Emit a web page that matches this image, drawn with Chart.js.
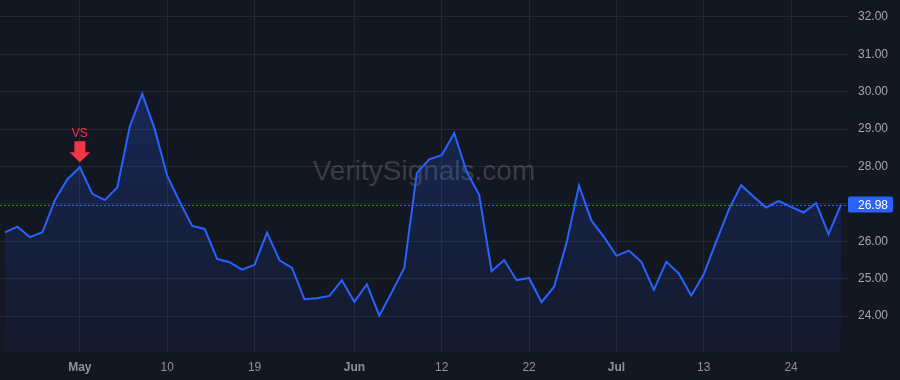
<!DOCTYPE html>
<html>
<head>
<meta charset="utf-8">
<script src="https://cdn.jsdelivr.net/npm/chart.js@4/dist/chart.umd.min.js"></script>
<style>
  html, body { margin: 0; padding: 0; background: #131722; }
  #wrap { width: 900px; height: 380px; }
</style>
</head>
<body>
<div id="wrap"><canvas id="price-chart" width="900" height="380"></canvas></div>
<script>
// trading days, Apr 21 - Jul 28 2023
const dates = [
  "2023-04-21","2023-04-24","2023-04-25","2023-04-26","2023-04-27","2023-04-28",
  "2023-05-01","2023-05-02","2023-05-03","2023-05-04","2023-05-05",
  "2023-05-08","2023-05-09","2023-05-10","2023-05-11","2023-05-12",
  "2023-05-15","2023-05-16","2023-05-17","2023-05-18","2023-05-19",
  "2023-05-22","2023-05-23","2023-05-24","2023-05-25","2023-05-26",
  "2023-05-30","2023-05-31","2023-06-01","2023-06-02",
  "2023-06-05","2023-06-06","2023-06-07","2023-06-08","2023-06-09",
  "2023-06-12","2023-06-13","2023-06-14","2023-06-15","2023-06-16",
  "2023-06-20","2023-06-21","2023-06-22","2023-06-23",
  "2023-06-26","2023-06-27","2023-06-28","2023-06-29","2023-06-30",
  "2023-07-03","2023-07-05","2023-07-06","2023-07-07",
  "2023-07-10","2023-07-11","2023-07-12","2023-07-13","2023-07-14",
  "2023-07-17","2023-07-18","2023-07-19","2023-07-20","2023-07-21",
  "2023-07-24","2023-07-25","2023-07-26","2023-07-27","2023-07-28"
];
const closes = [
  26.24, 26.39, 26.11, 26.24, 27.10, 27.66,
  27.98, 27.27, 27.10, 27.44, 29.07,
  29.94, 29.00, 27.75, 27.06, 26.41,
  26.33, 25.53, 25.44, 25.24, 25.37,
  26.23, 25.49, 25.29, 24.45, 24.48,
  24.54, 24.96, 24.38, 24.85,
  24.01, 24.64, 25.29, 27.82, 28.19,
  28.30, 28.89, 27.86, 27.24, 25.20,
  25.50, 24.96, 25.02, 24.37,
  24.78, 25.95, 27.49, 26.55, 26.12,
  25.61, 25.75, 25.45, 24.70,
  25.45, 25.14, 24.55, 25.12, 25.99,
  26.84, 27.50, 27.19, 26.90, 27.08,
  26.92, 26.77, 27.02, 26.19, 26.98
];
const tickDates = ["2023-05-01","2023-05-10","2023-05-19","2023-06-01","2023-06-12","2023-06-22","2023-07-03","2023-07-13","2023-07-24"];
const tickText  = ["May","10","19","Jun","12","22","Jul","13","24"];
const monthTicks = ["May","Jun","Jul"];
const priceTicks = [24, 25, 26, 27, 28, 29, 30, 31, 32];
const signalDate = "2023-05-01";
const signalText = "VS";
const watermark = "VeritySignals.com";

const tickIdx = tickDates.map(d => dates.indexOf(d));
const points = closes.map((v, i) => ({ x: i, y: v }));
const FONT = "'Liberation Sans', Arial, sans-serif";
const BLUE = "#2962ff";

// watermark + last price dotted line, under the series
const underlay = {
  id: "underlay",
  beforeDatasetsDraw(chart) {
    const { ctx, chartArea: a, scales: { y } } = chart;
    ctx.save();
    ctx.font = "28px " + FONT;
    ctx.fillStyle = "rgba(255,255,255,0.16)";
    ctx.textAlign = "center";
    ctx.textBaseline = "middle";
    ctx.fillText(watermark, (a.left + a.right) / 2, 172);

    const py = Math.round(y.getPixelForValue(closes[closes.length - 1])) + 0.5;
    ctx.strokeStyle = BLUE;
    ctx.lineWidth = 1;
    ctx.setLineDash([2, 2]);
    ctx.beginPath();
    ctx.moveTo(a.left, py);
    ctx.lineTo(a.right, py);
    ctx.stroke();
    ctx.restore();
  }
};

// signal marker and last price tag
const overlay = {
  id: "overlay",
  afterDraw(chart) {
    const { ctx, chartArea: a, scales: { x, y } } = chart;
    const si = dates.indexOf(signalDate);
    const sx = x.getPixelForValue(si);
    const sy = y.getPixelForValue(closes[si]);
    ctx.save();
    ctx.fillStyle = "#f23645";
    ctx.font = "12px " + FONT;
    ctx.textAlign = "center";
    ctx.textBaseline = "alphabetic";
    ctx.fillText(signalText, sx, sy - 30);
    ctx.fillRect(sx - 5.5, sy - 26, 11, 12);
    ctx.beginPath();
    ctx.moveTo(sx - 10.5, sy - 15);
    ctx.lineTo(sx + 10.5, sy - 15);
    ctx.lineTo(sx, sy - 5);
    ctx.closePath();
    ctx.fill();

    const last = closes[closes.length - 1];
    const py = y.getPixelForValue(last);
    ctx.fillStyle = BLUE;
    ctx.beginPath();
    ctx.roundRect(a.right, py - 8, 45, 16, 2);
    ctx.fill();
    ctx.fillStyle = "#ffffff";
    ctx.font = "12px " + FONT;
    ctx.textAlign = "left";
    ctx.textBaseline = "middle";
    ctx.fillText(last.toFixed(2), a.right + 10, py + 1);
    ctx.restore();
  }
};

new Chart(document.getElementById("price-chart").getContext("2d"), {
  type: "line",
  data: {
    datasets: [{
      data: points,
      borderColor: BLUE,
      borderWidth: 2,
      pointRadius: 0,
      tension: 0,
      fill: "start",
      backgroundColor(c) {
        const a = c.chart.chartArea;
        if (!a) return "rgba(41,98,255,0.1)";
        const g = c.chart.ctx.createLinearGradient(0, a.top, 0, a.bottom);
        g.addColorStop(0, "rgba(41,98,255,0.30)");
        g.addColorStop(1, "rgba(41,98,255,0.04)");
        return g;
      }
    }]
  },
  options: {
    responsive: false,
    animation: false,
    layout: { padding: 0 },
    plugins: { legend: { display: false }, tooltip: { enabled: false } },
    scales: {
      x: {
        type: "linear",
        min: -0.4,
        max: 67.56,
        afterBuildTicks(s) { s.ticks = tickIdx.map(v => ({ value: v })); },
        afterFit(s) {
          s.height = 28;
          s.paddingLeft = 0; s.paddingRight = 0;
        },
        grid: { color: "#242833", drawTicks: false },
        border: { display: false },
        ticks: {
          autoSkip: false,
          maxRotation: 0,
          padding: 8,
          color: "#8e919a",
          font(c) {
            const t = c.tick ? tickText[tickIdx.indexOf(c.tick.value)] : "";
            return { family: FONT, size: 12, weight: monthTicks.includes(t) ? "bold" : "normal" };
          },
          callback: v => tickText[tickIdx.indexOf(v)]
        }
      },
      y: {
        position: "right",
        min: 23.04,
        max: 32.45,
        afterBuildTicks(s) { s.ticks = priceTicks.map(v => ({ value: v })); },
        afterFit(s) {
          s.width = 52;
          s.paddingTop = 0; s.paddingBottom = 0;
        },
        grid: { color: "#242833", drawTicks: false },
        border: { display: false },
        ticks: {
          crossAlign: "near",
          padding: 10,
          color: "#a3a6af",
          font: { family: FONT, size: 12 },
          callback: v => v.toFixed(2)
        }
      }
    }
  },
  plugins: [underlay, overlay]
});
</script>
</body>
</html>
